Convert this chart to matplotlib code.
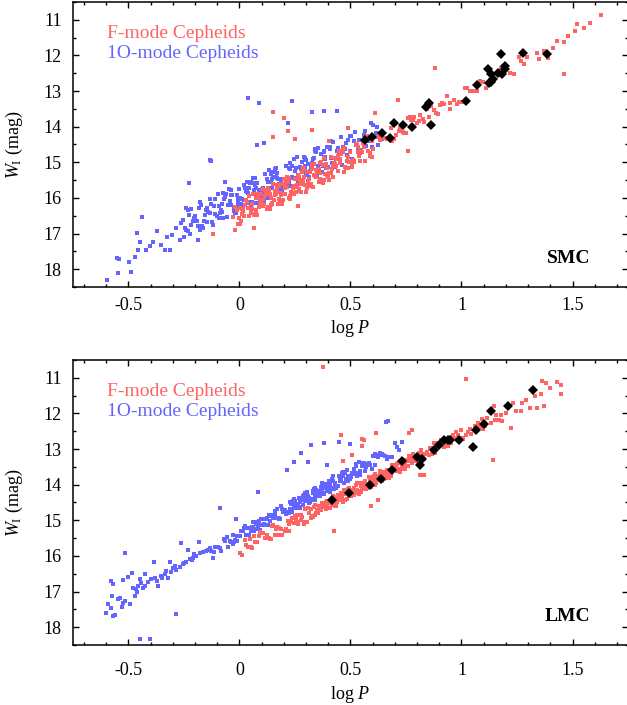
import matplotlib
matplotlib.use("Agg")
import matplotlib.pyplot as plt
from matplotlib.ticker import MultipleLocator

plt.rcParams['font.family'] = ['Liberation Serif', 'DejaVu Serif']
plt.rcParams['mathtext.fontset'] = 'custom'
plt.rcParams['mathtext.rm'] = 'Liberation Serif'
plt.rcParams['mathtext.it'] = 'Liberation Serif:italic'

# -----------------------------
# Data: (log P, W_I)
# -----------------------------
smc_1o = [
    # faint tail
    (-0.596, 18.31), (-0.547, 18.11), (-0.542, 17.70), (-0.55, 17.68), (-0.487, 18.08), (-0.499, 17.80),
    (-0.472, 17.66), (-0.457, 17.47), (-0.446, 17.24), (-0.46, 16.99), (-0.437, 16.54), (-0.419, 17.45),
    (-0.404, 17.36), (-0.39, 17.24), (-0.37, 16.93), (-0.352, 17.33), (-0.337, 17.45), (-0.327, 17.10),
    (-0.312, 17.45), (-0.303, 17.05), (-0.285, 16.84), (-0.267, 17.19), (-0.262, 16.71), (-0.229, 15.59),
    (-0.232, 16.35), (-0.24, 16.91), (-0.217, 16.77), (-0.187, 17.19), (-0.202, 16.63), (-0.18, 16.91),
    (-0.135, 14.93), (-0.127, 14.97), (-0.064, 15.56), (-0.255, 16.63), (-0.225, 17.0), (-0.18, 16.12),
    # outliers above the band
    (0.037, 13.19), (0.087, 13.34), (0.237, 13.27), (0.325, 13.58), (0.22, 13.9), (0.08, 14.51),
    (0.112, 14.46), (0.382, 13.55), (0.44, 13.55),
    # main cloud
    (-0.244, 16.84), (-0.217, 16.30), (-0.233, 16.92), (-0.205, 16.55), (-0.248, 17.10), (-0.226, 16.48),
    (-0.211, 16.64), (-0.239, 16.29), (-0.171, 16.79), (-0.152, 16.33), (-0.193, 16.64), (-0.165, 16.83),
    (-0.181, 16.27), (-0.158, 16.64), (-0.199, 16.50), (-0.174, 16.21), (-0.186, 16.80), (-0.157, 16.47),
    (-0.128, 16.16), (-0.119, 16.76), (-0.146, 16.27), (-0.112, 16.44), (-0.135, 16.02), (-0.103, 16.51),
    (-0.141, 16.39), (-0.122, 16.67), (-0.109, 16.04), (-0.132, 16.43), (-0.116, 16.22), (-0.148, 16.67),
    (-0.075, 15.87), (-0.088, 16.42), (-0.056, 16.53), (-0.079, 16.17), (-0.064, 15.96), (-0.092, 16.57),
    (-0.070, 16.04), (-0.051, 16.19), (-0.097, 15.89), (-0.077, 16.40), (-0.084, 16.33), (-0.061, 15.89),
    (-0.073, 16.55), (-0.094, 16.24), (-0.004, 16.23), (-0.037, 15.91), (-0.018, 16.33), (-0.007, 16.15),
    (-0.040, 15.79), (-0.026, 16.32), (-0.044, 16.08), (-0.017, 16.43), (-0.033, 15.92), (-0.005, 16.04),
    (-0.048, 15.74), (-0.026, 16.37), (-0.011, 15.92), (-0.039, 16.19), (-0.021, 16.41), (-0.002, 15.75),
    (0.008, 16.16), (0.036, 15.82), (0.020, 15.64), (0.042, 16.14), (0.001, 16.01), (0.027, 15.71),
    (0.014, 16.37), (0.044, 15.72), (0.022, 16.05), (0.032, 15.54), (0.005, 16.20), (0.038, 15.87),
    (0.016, 16.27), (0.048, 15.58), (0.010, 16.02), (0.029, 15.80), (0.041, 16.12), (0.068, 15.45),
    (0.085, 15.91), (0.052, 16.22), (0.076, 15.72), (0.063, 15.59), (0.094, 16.03), (0.071, 15.63),
    (0.087, 15.79), (0.059, 15.44), (0.081, 15.95), (0.100, 15.80), (0.054, 15.55), (0.073, 16.13),
    (0.067, 15.78), (0.089, 15.96), (0.078, 15.57), (0.057, 16.12), (0.146, 15.71), (0.114, 15.34),
    (0.132, 15.86), (0.143, 15.54), (0.111, 16.06), (0.125, 15.46), (0.106, 15.72), (0.134, 15.21),
    (0.117, 15.95), (0.146, 15.47), (0.103, 15.78), (0.124, 15.99), (0.140, 15.33), (0.112, 15.86),
    (0.129, 15.55), (0.148, 15.27), (0.108, 15.95), (0.186, 15.47), (0.170, 15.30), (0.192, 15.85),
    (0.151, 15.41), (0.177, 15.60), (0.164, 15.15), (0.194, 15.65), (0.172, 15.48), (0.182, 15.79),
    (0.155, 15.27), (0.188, 15.51), (0.166, 15.40), (0.198, 15.67), (0.160, 15.19), (0.179, 15.64),
    (0.191, 15.82), (0.168, 15.45), (0.235, 15.09), (0.202, 15.71), (0.226, 15.19), (0.213, 15.42),
    (0.244, 14.90), (0.221, 15.54), (0.237, 15.40), (0.209, 15.10), (0.231, 15.67), (0.250, 15.25),
    (0.204, 15.63), (0.223, 15.15), (0.217, 15.65), (0.239, 15.44), (0.228, 15.01), (0.207, 15.64),
    (0.296, 15.09), (0.264, 15.61), (0.282, 15.00), (0.293, 15.18), (0.261, 14.84), (0.275, 15.49),
    (0.256, 15.15), (0.284, 15.26), (0.267, 15.58), (0.296, 14.88), (0.253, 15.45), (0.274, 15.13),
    (0.290, 14.86), (0.262, 15.50), (0.279, 15.20), (0.298, 14.93), (0.308, 15.52), (0.336, 14.88),
    (0.320, 15.18), (0.342, 14.64), (0.301, 15.34), (0.327, 15.03), (0.314, 15.41), (0.344, 14.72),
    (0.322, 15.12), (0.332, 14.92), (0.305, 15.36), (0.338, 14.67), (0.316, 15.24), (0.348, 15.36),
    (0.310, 15.04), (0.379, 14.67), (0.391, 15.17), (0.368, 14.77), (0.385, 14.92), (0.352, 14.59),
    (0.376, 15.09), (0.363, 15.04), (0.394, 14.57), (0.371, 15.26), (0.387, 14.85), (0.359, 15.18),
    (0.381, 14.70), (0.400, 15.12), (0.354, 15.10), (0.423, 14.44), (0.417, 15.03), (0.439, 14.68),
    (0.428, 15.14), (0.407, 14.64), (0.446, 14.74), (0.414, 14.40), (0.432, 15.04), (0.443, 14.61),
    (0.411, 14.89), (0.425, 15.12), (0.406, 14.56), (0.434, 14.92), (0.467, 14.57), (0.496, 14.26),
    (0.453, 14.95), (0.474, 14.64), (0.490, 14.37), (0.462, 15.07), (0.479, 14.46), (0.498, 14.67),
    (0.458, 14.30), (0.486, 14.80), (0.470, 14.62), (0.542, 14.75), (0.501, 14.27), (0.527, 14.52),
    (0.514, 14.39), (0.544, 14.66), (0.522, 14.14), (0.532, 14.62), (0.505, 14.91), (0.538, 14.38),
    (0.566, 14.13), (0.598, 14.57), (0.560, 14.22), (0.579, 14.36), (0.591, 13.90), (0.568, 14.53),
    (0.585, 14.39), (0.602, 13.96), (0.626, 14.52), (0.613, 14.19), (0.644, 14.35), (0.621, 14.00),
]

smc_f = [
    (-0.011, 16.33), (-0.027, 16.54), (-0.007, 16.72), (-0.021, 16.25), (-0.002, 16.56), (0.010, 16.30),
    (0.029, 16.05), (0.041, 16.50), (0.018, 16.35), (0.035, 16.11), (0.002, 16.74), (0.026, 16.19),
    (0.013, 16.45), (0.044, 15.94), (0.021, 16.52), (0.037, 16.28), (0.009, 16.64), (0.031, 16.06),
    (0.050, 16.30), (0.004, 16.29), (0.073, 16.38), (0.067, 15.89), (0.089, 16.25), (0.078, 16.48),
    (0.057, 16.17), (0.096, 15.90), (0.064, 16.46), (0.082, 16.01), (0.093, 16.14), (0.061, 15.88),
    (0.075, 16.33), (0.056, 16.31), (0.084, 15.89), (0.067, 16.48), (0.096, 16.07), (0.053, 16.43),
    (0.074, 16.00), (0.140, 16.21), (0.112, 16.16), (0.129, 15.72), (0.148, 16.14), (0.108, 16.03),
    (0.136, 16.31), (0.120, 15.88), (0.142, 15.99), (0.101, 15.74), (0.127, 16.25), (0.114, 15.95),
    (0.144, 16.01), (0.122, 16.32), (0.132, 15.77), (0.105, 16.22), (0.138, 15.90), (0.116, 15.78),
    (0.148, 16.17), (0.160, 15.91), (0.179, 15.67), (0.191, 16.16), (0.168, 15.75), (0.185, 15.92),
    (0.152, 15.61), (0.176, 16.03), (0.163, 15.89), (0.194, 16.07), (0.171, 15.63), (0.187, 15.87),
    (0.159, 15.81), (0.181, 16.05), (0.200, 15.48), (0.154, 16.05), (0.173, 16.18), (0.167, 15.83),
    (0.189, 15.61), (0.228, 15.95), (0.207, 15.62), (0.246, 15.67), (0.214, 15.41), (0.232, 15.84),
    (0.243, 15.73), (0.211, 15.50), (0.225, 15.99), (0.206, 15.73), (0.234, 15.87), (0.217, 15.56),
    (0.246, 15.88), (0.203, 15.88), (0.224, 15.43), (0.240, 15.86), (0.212, 15.70), (0.229, 16.02),
    (0.248, 15.48), (0.258, 15.63), (0.286, 15.16), (0.270, 15.80), (0.292, 15.40), (0.251, 15.68),
    (0.277, 15.84), (0.264, 15.36), (0.294, 15.64), (0.272, 15.49), (0.282, 15.27), (0.255, 15.84),
    (0.288, 15.52), (0.266, 15.40), (0.298, 15.83), (0.260, 15.46), (0.279, 15.62), (0.291, 15.18),
    (0.268, 15.75), (0.335, 15.35), (0.302, 15.73), (0.326, 15.15), (0.313, 15.48), (0.344, 15.23),
    (0.321, 15.62), (0.337, 15.06), (0.309, 15.57), (0.331, 15.69), (0.350, 15.27), (0.304, 15.26),
    (0.323, 15.66), (0.317, 15.28), (0.339, 15.38), (0.328, 15.05), (0.307, 15.61), (0.346, 15.41),
    (0.364, 15.02), (0.382, 15.51), (0.393, 15.15), (0.361, 15.47), (0.375, 15.07), (0.356, 15.54),
    (0.384, 15.32), (0.367, 14.98), (0.396, 15.37), (0.353, 15.27), (0.374, 15.57), (0.390, 15.04),
    (0.362, 15.31), (0.379, 14.88), (0.398, 15.41), (0.358, 15.19), (0.436, 15.11), (0.420, 15.40),
    (0.442, 14.81), (0.401, 15.31), (0.427, 15.01), (0.414, 14.86), (0.444, 15.25), (0.422, 15.10),
    (0.432, 14.88), (0.405, 15.50), (0.438, 14.91), (0.416, 15.20), (0.448, 14.69), (0.410, 15.31),
    (0.429, 15.06), (0.491, 15.15), (0.468, 14.71), (0.485, 14.95), (0.452, 14.90), (0.476, 15.13),
    (0.463, 14.67), (0.494, 15.00), (0.471, 15.26), (0.487, 14.84), (0.459, 14.78), (0.481, 15.17),
    (0.500, 14.71), (0.454, 15.02), (0.473, 14.60), (0.517, 14.96), (0.539, 14.81), (0.528, 14.51),
    (0.507, 15.12), (0.546, 14.68), (0.514, 15.00), (0.532, 14.58), (0.543, 14.96), (0.511, 14.93),
    (0.525, 14.49), (0.506, 15.03), (0.534, 14.71), (0.567, 14.97), (0.596, 14.40), (0.553, 14.72),
    (0.574, 14.27), (0.590, 14.81), (0.562, 14.56), (0.579, 14.67), (0.598, 14.85), (0.558, 14.45),
    (0.586, 14.73),
    # bright end
    (0.639, 14.33), (0.684, 14.05), (0.602, 14.63), (0.653, 14.32), (0.628, 14.29), (0.687, 14.41),
    (0.644, 14.27), (0.663, 14.34), (0.609, 14.28), (0.676, 14.35), (0.631, 14.38), (0.695, 14.34),
    (0.619, 14.28), (0.657, 14.33), (0.782, 13.81), (0.736, 14.16), (0.769, 13.74), (0.704, 14.22),
    (0.751, 14.18), (0.725, 14.04), (0.788, 13.73), (0.742, 14.17), (0.773, 13.81), (0.717, 14.12),
    (0.761, 13.75), (0.799, 13.91), (0.807, 13.84), (0.846, 13.50), (0.833, 13.88), (0.878, 13.52),
    (0.855, 13.74), (0.813, 13.67), (0.892, 13.64), (0.827, 13.79), (0.864, 13.42), (0.886, 13.63),
    (0.921, 13.36), (0.949, 13.50), (0.912, 13.33), (0.967, 13.25), (0.934, 13.14), (0.991, 13.30),
    (0.905, 13.39), (0.948, 13.34), (0.979, 13.37), (1.023, 12.91), (1.058, 13.01), (1.096, 12.75),
    (1.015, 12.91), (1.071, 13.01), (1.039, 12.99), (1.084, 12.72), (1.002, 13.32), (1.153, 12.51),
    (1.128, 12.74), (1.187, 12.29), (1.144, 12.73), (1.163, 12.55), (1.109, 12.91), (1.176, 12.36),
    (1.131, 12.70), (1.295, 12.04), (1.219, 12.49), (1.257, 12.05), (1.282, 12.23), (1.236, 12.51),
    (1.269, 12.16), (1.34, 11.93), (1.35, 12.10), (1.39, 12.06), (1.43, 11.59), (1.46, 11.63),
    (1.51, 11.31), (1.52, 11.12), (1.58, 11.10), (1.63, 10.86), (1.46, 12.52), (1.41, 11.78),
    (1.48, 11.45), (1.55, 11.22), (1.37, 11.88),
    # outliers
    (0.88, 12.34), (0.76, 14.69), (0.716, 13.25), (0.15, 13.58), (0.2, 13.75), (0.22, 14.11),
    (0.15, 14.3), (0.325, 14.09), (0.25, 14.34), (-0.12, 17.02), (-0.02, 16.89), (0.067, 16.85),
    (0.265, 16.23), (0.61, 13.63), (0.49, 14.05), (0.405, 14.4),
]

smc_stars = [
    (1.18, 11.96), (1.275, 11.92), (1.387, 11.96), (1.119, 12.38), (1.197, 12.29), (1.198, 12.38),
    (1.134, 12.52), (1.164, 12.48), (1.183, 12.52), (1.143, 12.66), (1.124, 12.78), (1.131, 12.76),
    (1.07, 12.84), (1.019, 13.29), (0.854, 13.34), (0.840, 13.46), (0.864, 13.94), (0.775, 14.0),
    (0.737, 13.94), (0.694, 13.9), (0.676, 14.31), (0.640, 14.17), (0.599, 14.28), (0.566, 14.36),
]

lmc_1o = [
    # faint tail
    (-0.602, 17.59), (-0.569, 17.69), (-0.559, 17.66), (-0.592, 17.36), (-0.581, 17.45), (-0.577, 16.71),
    (-0.569, 16.80), (-0.574, 17.13), (-0.547, 17.22), (-0.539, 17.17), (-0.524, 17.31), (-0.517, 17.27),
    (-0.524, 16.68), (-0.494, 17.36), (-0.502, 16.58), (-0.484, 16.47), (-0.479, 16.89), (-0.472, 17.13),
    (-0.464, 16.94), (-0.457, 16.84), (-0.449, 16.66), (-0.445, 16.75), (-0.434, 16.89), (-0.427, 16.84),
    (-0.427, 16.5), (-0.397, 16.64), (-0.387, 16.16), (-0.382, 16.61), (-0.372, 16.71), (-0.367, 16.83),
    (-0.348, 16.61), (-0.337, 16.52), (-0.33, 16.43), (-0.322, 16.61), (-0.312, 16.17), (-0.30, 16.33),
    (-0.292, 16.28), (-0.285, 16.39), (-0.27, 16.3), (-0.265, 15.63), (-0.255, 16.24), (-0.24, 16.17),
    (-0.232, 15.84), (-0.225, 16.10), (-0.21, 16.05), (-0.195, 15.99), (-0.183, 15.6), (-0.18, 15.93),
    (-0.165, 15.89), (-0.15, 15.87), (-0.142, 15.82), (-0.135, 15.77), (-0.12, 16.05), (-0.128, 15.86),
    (-0.205, 15.95), (-0.216, 16.12), (-0.25, 16.21), (-0.31, 16.45), (-0.355, 16.55), (-0.41, 16.72),
    (-0.46, 17.02), (-0.53, 17.42),
    # outliers
    (-0.09, 14.65), (-0.285, 17.64), (-0.449, 18.34), (-0.404, 18.34), (-0.514, 15.91), (0.322, 12.88),
    (0.382, 12.83), (0.449, 12.81), (0.277, 13.11), (0.247, 13.37), (0.307, 13.37), (0.214, 13.58),
    (0.394, 13.44), (0.082, 14.21), (-0.015, 14.96), (0.66, 12.25), (0.67, 12.2), (0.5, 12.85),
    # main band
    (-0.084, 15.87), (-0.112, 15.75), (-0.090, 15.77), (-0.071, 15.52), (-0.117, 15.90), (-0.097, 15.75),
    (-0.054, 15.74), (-0.031, 15.42), (-0.043, 15.59), (-0.064, 15.59), (-0.024, 15.60), (-0.057, 15.48),
    (-0.038, 15.61), (-0.027, 15.66), (-0.010, 15.43), (0.005, 15.31), (-0.014, 15.59), (0.014, 15.30),
    (-0.003, 15.45), (0.026, 15.17), (-0.018, 15.55), (0.004, 15.45), (0.020, 15.23), (-0.009, 15.59),
    (0.059, 15.21), (0.078, 15.24), (0.038, 15.21), (0.066, 15.30), (0.050, 15.30), (0.072, 15.04),
    (0.031, 15.41), (0.057, 15.20), (0.044, 15.42), (0.074, 15.10), (0.052, 15.25), (0.062, 15.05),
    (0.085, 15.25), (0.118, 14.96), (0.096, 15.12), (0.128, 15.12), (0.090, 15.01), (0.109, 15.11),
    (0.121, 14.97), (0.098, 14.96), (0.115, 15.13), (0.082, 15.14), (0.106, 14.96), (0.093, 15.26),
    (0.124, 14.93), (0.151, 14.94), (0.167, 14.69), (0.139, 15.02), (0.161, 14.86), (0.180, 14.93),
    (0.134, 14.85), (0.153, 14.91), (0.147, 14.86), (0.169, 14.94), (0.158, 14.74), (0.137, 15.01),
    (0.176, 14.96), (0.144, 14.89), (0.162, 14.77), (0.223, 14.79), (0.191, 14.68), (0.205, 14.73),
    (0.186, 14.59), (0.214, 14.77), (0.197, 14.78), (0.226, 14.50), (0.183, 14.95), (0.204, 14.70),
    (0.220, 14.77), (0.192, 14.67), (0.209, 14.83), (0.228, 14.69), (0.188, 14.61), (0.216, 14.79),
    (0.250, 14.54), (0.272, 14.66), (0.231, 14.53), (0.257, 14.54), (0.244, 14.39), (0.274, 14.62),
    (0.252, 14.50), (0.262, 14.56), (0.235, 14.78), (0.268, 14.38), (0.246, 14.65), (0.278, 14.42),
    (0.240, 14.45), (0.259, 14.66), (0.271, 14.49), (0.248, 14.46), (0.315, 14.52), (0.282, 14.38),
    (0.306, 14.41), (0.293, 14.23), (0.324, 14.40), (0.301, 14.37), (0.317, 14.48), (0.289, 14.29),
    (0.311, 14.38), (0.330, 14.22), (0.284, 14.56), (0.303, 14.21), (0.297, 14.47), (0.319, 14.50),
    (0.308, 14.33), (0.287, 14.32), (0.326, 14.44), (0.344, 14.15), (0.362, 14.19), (0.373, 13.94),
    (0.341, 14.33), (0.355, 14.24), (0.336, 14.12), (0.364, 14.32), (0.347, 14.20), (0.376, 14.23),
    (0.333, 14.18), (0.354, 14.33), (0.370, 14.20), (0.342, 14.08), (0.359, 14.29), (0.378, 14.10),
    (0.338, 14.43), (0.366, 14.07), (0.400, 14.05), (0.422, 13.77), (0.381, 14.25), (0.407, 13.97),
    (0.394, 14.10), (0.424, 14.13), (0.402, 13.91), (0.412, 14.08), (0.385, 14.05), (0.418, 13.84),
    (0.396, 14.18), (0.428, 13.94), (0.390, 13.98), (0.409, 14.20), (0.421, 13.90), (0.398, 14.10),
    (0.465, 13.64), (0.432, 14.03), (0.456, 13.84), (0.443, 14.04), (0.474, 13.66), (0.451, 13.89),
    (0.467, 13.75), (0.439, 14.03), (0.461, 13.66), (0.480, 13.83), (0.434, 14.10), (0.453, 13.83),
    (0.447, 13.77), (0.469, 13.94), (0.458, 13.76), (0.487, 13.76), (0.526, 13.42), (0.494, 13.81),
    (0.512, 13.69), (0.523, 13.48), (0.491, 13.89), (0.505, 13.66), (0.486, 13.85), (0.514, 13.56),
    (0.497, 13.84), (0.526, 13.67), (0.483, 13.59), (0.504, 13.79), (0.570, 13.43), (0.542, 13.73),
    (0.559, 13.40), (0.578, 13.44), (0.538, 13.37), (0.566, 13.61), (0.550, 13.47), (0.572, 13.49),
    (0.531, 13.76), (0.557, 13.38), (0.544, 13.62), (0.624, 13.23), (0.602, 13.20), (0.612, 13.44),
    (0.585, 13.40), (0.618, 13.19), (0.596, 13.55), (0.628, 13.18), (0.590, 13.44), (0.609, 13.14),
    (0.671, 13.21), (0.648, 13.17), (0.665, 13.28), (0.632, 13.11), (0.656, 13.19), (0.643, 13.14),
    (0.674, 13.22), (0.701, 12.83), (0.717, 13.02), (0.689, 13.22), (0.711, 12.94), (0.730, 12.79),
]

lmc_f = [
    # faint end
    (0.003, 15.92), (0.024, 15.55), (0.040, 15.76), (0.012, 15.96), (0.029, 15.68), (0.048, 15.53),
    (0.058, 15.78), (0.086, 15.44), (0.070, 15.60), (0.092, 15.32), (0.051, 15.74), (0.077, 15.61),
    (0.064, 15.45), (0.144, 15.53), (0.122, 15.40), (0.132, 15.51), (0.105, 15.37), (0.138, 15.52),
    (0.116, 15.51), (0.148, 15.17), (0.160, 15.42), (0.179, 15.22), (0.191, 15.41), (0.168, 15.19),
    (0.185, 15.25), (0.152, 15.12), (0.176, 15.40), (0.163, 15.24), (0.244, 15.08), (0.221, 15.30),
    (0.237, 14.94), (0.209, 15.24), (0.231, 15.04), (0.250, 14.87), (0.204, 15.31), (0.223, 15.11),
    (0.217, 15.02), (0.289, 15.11), (0.278, 14.86), (0.257, 15.06), (0.296, 14.69), (0.264, 15.09),
    (0.282, 14.92), (0.293, 15.06), (0.261, 14.84), (0.275, 14.98), (0.256, 14.95), (0.320, 14.94),
    (0.310, 14.66), (0.327, 14.87), (0.302, 15.06), (0.314, 14.80), (0.324, 14.68),
    # dense band
    (0.342, 14.85), (0.359, 14.60), (0.378, 14.63), (0.338, 14.58), (0.366, 14.72), (0.350, 14.72),
    (0.372, 14.51), (0.331, 14.90), (0.357, 14.67), (0.344, 14.79), (0.374, 14.54), (0.352, 14.80),
    (0.362, 14.71), (0.335, 14.62), (0.418, 14.58), (0.396, 14.53), (0.428, 14.60), (0.390, 14.50),
    (0.409, 14.52), (0.421, 14.31), (0.398, 14.66), (0.415, 14.44), (0.382, 14.63), (0.406, 14.66),
    (0.393, 14.46), (0.424, 14.53), (0.401, 14.50), (0.417, 14.36), (0.389, 14.68), (0.411, 14.50),
    (0.430, 14.35), (0.434, 14.59), (0.453, 14.31), (0.447, 14.43), (0.469, 14.16), (0.458, 14.43),
    (0.437, 14.41), (0.476, 14.42), (0.444, 14.28), (0.462, 14.36), (0.473, 14.25), (0.441, 14.50),
    (0.455, 14.22), (0.436, 14.48), (0.464, 14.48), (0.447, 14.36), (0.476, 14.20), (0.433, 14.55),
    (0.454, 14.29), (0.520, 14.17), (0.492, 14.08), (0.509, 14.25), (0.528, 14.16), (0.488, 14.13),
    (0.516, 14.30), (0.500, 14.20), (0.522, 14.23), (0.481, 14.19), (0.507, 14.30), (0.494, 14.28),
    (0.524, 14.00), (0.502, 14.31), (0.512, 14.15), (0.485, 14.41), (0.518, 14.08), (0.496, 14.24),
    (0.528, 13.96), (0.540, 14.20), (0.559, 13.97), (0.571, 14.01), (0.548, 14.20), (0.565, 13.90),
    (0.532, 14.18), (0.556, 14.00), (0.543, 13.95), (0.574, 14.08), (0.551, 14.05), (0.567, 13.91),
    (0.539, 14.25), (0.561, 13.95), (0.580, 13.99), (0.534, 13.95), (0.553, 14.12), (0.547, 14.05),
    (0.569, 14.12), (0.608, 13.75), (0.587, 13.95), (0.626, 13.75), (0.594, 14.01), (0.612, 13.71),
    (0.623, 13.87), (0.591, 14.07), (0.605, 13.84), (0.586, 13.84), (0.614, 13.96), (0.597, 13.83),
    (0.626, 13.82), (0.583, 13.78), (0.604, 13.94), (0.620, 13.86), (0.592, 13.79), (0.609, 14.00),
    (0.678, 13.62), (0.638, 13.85), (0.666, 13.59), (0.650, 13.83), (0.672, 13.70), (0.631, 13.66),
    (0.657, 13.80), (0.644, 13.72), (0.674, 13.80), (0.652, 13.65), (0.662, 13.70), (0.635, 13.61),
    (0.668, 13.79), (0.646, 13.69), (0.678, 13.66), (0.640, 13.90), (0.709, 13.43), (0.721, 13.56),
    (0.698, 13.54), (0.715, 13.39), (0.682, 13.73), (0.706, 13.54), (0.693, 13.50), (0.724, 13.64),
    (0.701, 13.50), (0.717, 13.55), (0.689, 13.45), (0.711, 13.61), (0.730, 13.46), (0.684, 13.75),
    (0.703, 13.44), (0.747, 13.43), (0.769, 13.29), (0.758, 13.47), (0.737, 13.30), (0.776, 13.38),
    (0.744, 13.57), (0.762, 13.33), (0.773, 13.24), (0.741, 13.55), (0.755, 13.31), (0.736, 13.47),
    (0.764, 13.19), (0.747, 13.48),
    # bright end
    (0.826, 13.18), (0.783, 13.15), (0.804, 13.35), (0.820, 13.15), (0.792, 13.33), (0.809, 13.11),
    (0.828, 13.24), (0.788, 13.31), (0.816, 13.04), (0.800, 13.30), (0.872, 12.98), (0.831, 13.27),
    (0.857, 12.97), (0.844, 13.09), (0.874, 12.83), (0.852, 13.18), (0.862, 12.98), (0.835, 13.14),
    (0.868, 13.15), (0.896, 12.82), (0.928, 12.89), (0.890, 12.91), (0.909, 12.76), (0.921, 12.95),
    (0.898, 12.91), (0.915, 12.77), (0.882, 13.12), (0.956, 12.67), (0.943, 12.81), (0.974, 12.53),
    (0.951, 12.83), (0.967, 12.69), (0.939, 12.92), (0.961, 12.61), (1.030, 12.53), (0.984, 12.60),
    (1.003, 12.69), (0.997, 12.47), (1.019, 12.60), (1.008, 12.72), (1.037, 12.45), (1.076, 12.27),
    (1.044, 12.58), (1.062, 12.34), (1.073, 12.39), (1.091, 12.16), (1.105, 12.34), (1.086, 12.37),
    (1.114, 12.13), (1.097, 12.44), (1.176, 12.04), (1.133, 12.28), (1.154, 12.04), (1.170, 12.18),
    (1.146, 11.8), (1.153, 12.18), (1.182, 12.22), (1.2, 11.99), (1.225, 12.41), (1.23, 11.71),
    (1.244, 11.94), (1.27, 11.94), (1.273, 11.71), (1.31, 11.85), (1.341, 11.85), (1.356, 11.45),
    (1.363, 11.1), (1.371, 11.8), (1.38, 11.15), (1.43, 11.13), (1.447, 11.2), (1.45, 11.45),
    (1.29, 11.62), (1.33, 11.52), (1.4, 11.3),
    # outliers
    (0.377, 10.7), (1.019, 11.04), (1.143, 13.32), (0.457, 12.6), (0.554, 12.72), (0.506, 13.16),
    (0.464, 13.34), (0.562, 12.74), (0.614, 12.55), (0.764, 12.55), (0.779, 12.46), (0.551, 12.92),
    (0.815, 13.72), (0.591, 14.6), (0.625, 14.42), (0.424, 15.3), (0.83, 13.72),
]

lmc_stars = [
    (1.323, 11.34), (1.21, 11.78), (1.131, 11.94), (1.101, 12.29), (1.065, 12.46), (1.053, 12.93),
    (0.989, 12.76), (0.948, 12.76), (0.939, 12.76), (0.921, 12.74), (0.90, 12.88), (0.876, 13.03),
    (0.821, 13.27), (0.798, 13.21), (0.813, 13.44), (0.731, 13.34), (0.685, 13.60), (0.637, 13.83),
    (0.589, 14.02), (0.494, 14.23), (0.417, 14.44),
]

panels = [("SMC", smc_f, smc_1o, smc_stars), ("LMC", lmc_f, lmc_1o, lmc_stars)]

RED = "#ff6464"
BLUE = "#6464ff"

fig = plt.figure(figsize=(6.27, 7.05), dpi=100)
axes = [fig.add_axes([0.1164, 0.5929, 0.8852, 0.4043]),
        fig.add_axes([0.1164, 0.0851, 0.8852, 0.4043])]

for ax, (name, fmode, omode, stars), xpad, xlab_y in zip(axes, panels, [7, 12], [-0.108, -0.138]):
    ax.plot([p[0] for p in omode], [p[1] for p in omode], ls="none", marker="s",
            ms=2.6, mew=0, color=BLUE)
    ax.plot([p[0] for p in fmode], [p[1] for p in fmode], ls="none", marker="s",
            ms=2.6, mew=0, color=RED)
    ax.plot([p[0] for p in stars], [p[1] for p in stars], ls="none", marker="D",
            ms=4.8, mew=0, color="black")

    ax.set_xlim(-0.75, 1.75)
    ax.set_ylim(18.5, 10.5)
    ax.xaxis.set_minor_locator(MultipleLocator(0.1))
    ax.yaxis.set_major_locator(MultipleLocator(1))
    ax.yaxis.set_minor_locator(MultipleLocator(0.5))
    ax.set_xticks([-0.5, 0, 0.5, 1, 1.5])
    ax.set_xticklabels(["-0.5", "0", "0.5", "1", "1.5"])
    ax.tick_params(which="both", direction="in", top=True, right=True, labelsize=13, width=1)
    ax.tick_params(which="major", length=4.5)
    ax.tick_params(which="minor", length=2.5)
    ax.tick_params(axis="x", pad=xpad)
    ax.tick_params(axis="y", pad=8)
    for s in ax.spines.values():
        s.set_linewidth(1.1)

    ax.set_xlabel(r"log $P$", fontsize=13)
    ax.xaxis.set_label_coords(0.5, xlab_y)
    ax.set_ylabel(r"$W_{\rm I}$ (mag)", fontsize=13)
    ax.yaxis.set_label_coords(-0.087, 0.5)

    ax.text(0.061, 0.89, "F-mode Cepheids", color=RED, fontsize=14,
            transform=ax.transAxes, va="center", ha="left")
    ax.text(0.061, 0.82, "1O-mode Cepheids", color=BLUE, fontsize=14,
            transform=ax.transAxes, va="center", ha="left")
    ax.text(0.932, 0.10, name, fontsize=14, fontweight="bold",
            transform=ax.transAxes, va="center", ha="right")

fig.savefig("out.png", dpi=100)
